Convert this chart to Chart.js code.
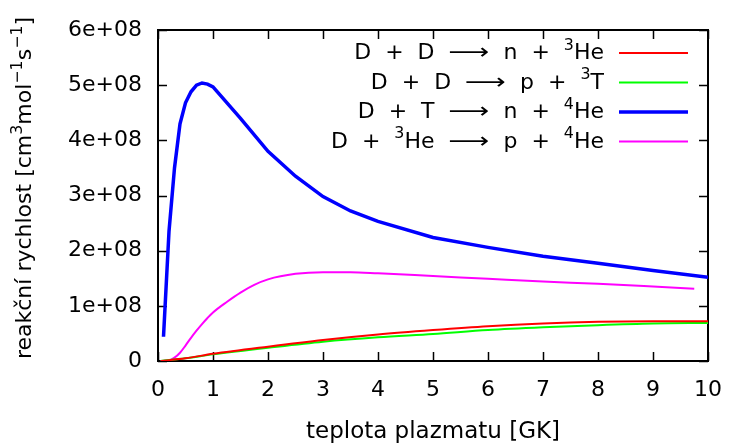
<!DOCTYPE html>
<html>
<head>
<meta charset="utf-8">
<script src="https://cdn.jsdelivr.net/npm/chart.js@4.4.1/dist/chart.umd.min.js"></script>
<style>
  html, body { margin: 0; padding: 0; background: #fff; }
  #wrap { width: 738px; height: 448px; }
</style>
</head>
<body>
<div id="wrap"><canvas id="rateChart" width="738" height="448"></canvas></div>
<script>
// temperature grid [GK] and rates [1e8 cm^3 mol^-1 s^-1]
const tempDT = [0.1, 0.2, 0.3, 0.4, 0.5, 0.6, 0.7, 0.8, 0.9, 1.0, 1.5, 2.0, 2.5, 3.0, 3.5, 4.0, 5.0, 6.0, 7.0, 8.0, 9.0, 10.0];
const rateDT = [0.44, 2.35, 3.5, 4.3, 4.68, 4.88, 5.0, 5.04, 5.02, 4.97, 4.4, 3.8, 3.35, 2.98, 2.72, 2.53, 2.24, 2.06, 1.9, 1.77, 1.64, 1.52];

const tempDHe3 = [0.05, 0.1, 0.2, 0.3, 0.4, 0.5, 0.6, 0.7, 0.8, 0.9, 1.0, 1.25, 1.5, 1.75, 2.0, 2.5, 3.0, 3.5, 4.0, 5.0, 6.0, 7.0, 8.0, 9.0, 9.75];
const rateDHe3 = [0, 0.002, 0.01, 0.06, 0.15, 0.28, 0.42, 0.55, 0.67, 0.78, 0.88, 1.07, 1.24, 1.38, 1.48, 1.58, 1.61, 1.61, 1.59, 1.54, 1.49, 1.44, 1.4, 1.35, 1.31];

const tempDD = [0.05, 0.5, 1.0, 2.0, 3.0, 4.0, 5.0, 6.0, 7.0, 8.0, 9.0, 10.0];
const rateDDn = [0, 0.05, 0.13, 0.26, 0.38, 0.48, 0.56, 0.63, 0.68, 0.71, 0.72, 0.72];
const rateDDp = [0, 0.05, 0.12, 0.24, 0.35, 0.43, 0.49, 0.56, 0.61, 0.65, 0.68, 0.69];

const xTicks = [0, 1, 2, 3, 4, 5, 6, 7, 8, 9, 10];
const yTicks = [0, 1e8, 2e8, 3e8, 4e8, 5e8, 6e8];

// legend labels as pieces: [text, kind]  kind: '' normal, 'sup' superscript, 'arr' long arrow
const legendRows = [
  [['D + D ', ''], ['\u27F6', 'arr'], [' n + ', ''], ['3', 'sup'], ['He', '']],
  [['D + D ', ''], ['\u27F6', 'arr'], [' p + ', ''], ['3', 'sup'], ['T', '']],
  [['D + T ', ''], ['\u27F6', 'arr'], [' n + ', ''], ['4', 'sup'], ['He', '']],
  [['D + ', ''], ['3', 'sup'], ['He ', ''], ['\u27F6', 'arr'], [' p + ', ''], ['4', 'sup'], ['He', '']],
];
const yTitle = [['reakční rychlost [cm', ''], ['3', 'sup'], ['mol', ''], ['\u22121', 'sup'], ['s', ''], ['\u22121', 'sup'], [']', '']];

const FONT = '"DejaVu Sans", sans-serif';
const FS = 22;

const toPoints = (xs, ys) => xs.map((x, i) => ({ x: x, y: ys[i] * 1e8 }));

const series = [
  { label: 'D + D -> n + 3He', data: toPoints(tempDD, rateDDn), borderColor: '#ff0000', borderWidth: 2, cubicInterpolationMode: 'monotone' },
  { label: 'D + D -> p + 3T', data: toPoints(tempDD, rateDDp), borderColor: '#00ff00', borderWidth: 2, cubicInterpolationMode: 'monotone' },
  { label: 'D + T -> n + 4He', data: toPoints(tempDT, rateDT), borderColor: '#0000ff', borderWidth: 3.5, tension: 0 },
  { label: 'D + 3He -> p + 4He', data: toPoints(tempDHe3, rateDHe3), borderColor: '#ff00ff', borderWidth: 2, cubicInterpolationMode: 'monotone' },
];

const ARROW_STRETCH = 1.3;

// text pieces with optional extra gap at spaces (gnuplot spaces are wide)
function pieceWidth(ctx, t, kind, size, gap) {
  ctx.font = (kind === 'sup' ? size * 0.72 : size) + 'px ' + FONT;
  let w = ctx.measureText(t).width;
  if (kind === 'arr') w *= ARROW_STRETCH;
  return w + (t.split(' ').length - 1) * gap;
}
function richWidth(ctx, parts, size, gap) {
  return parts.reduce((w, [t, kind]) => w + pieceWidth(ctx, t, kind, size, gap), 0);
}
function drawRich(ctx, parts, x, y, size, gap) {
  let cx = x;
  parts.forEach(([t, kind]) => {
    ctx.font = (kind === 'sup' ? size * 0.72 : size) + 'px ' + FONT;
    if (kind === 'arr') {
      ctx.save();
      ctx.translate(cx, y);
      ctx.scale(ARROW_STRETCH, 1);
      ctx.fillText(t, 0, 0);
      ctx.restore();
      cx += ctx.measureText(t).width * ARROW_STRETCH;
      return;
    }
    const yy = kind === 'sup' ? y - size * 0.42 : y;
    t.split(/( )/).forEach(chunk => {
      if (chunk === '') return;
      if (chunk === ' ') { cx += ctx.measureText(' ').width + gap; return; }
      ctx.fillText(chunk, cx, yy);
      cx += ctx.measureText(chunk).width;
    });
  });
}

// gnuplot style frame with inward ticks on all four sides
const framePlugin = {
  id: 'frame',
  beforeDatasetsDraw(chart) {
    const { ctx, chartArea: a, scales } = chart;
    ctx.save();
    ctx.strokeStyle = '#000';
    ctx.lineWidth = 1.5;
    const tl = 9;
    ctx.beginPath();
    xTicks.forEach(v => {
      const px = Math.round(scales.x.getPixelForValue(v)) + 0.5;
      ctx.moveTo(px, a.bottom); ctx.lineTo(px, a.bottom - tl);
      ctx.moveTo(px, a.top); ctx.lineTo(px, a.top + tl);
    });
    yTicks.forEach(v => {
      const py = Math.round(scales.y.getPixelForValue(v)) + 0.5;
      ctx.moveTo(a.left, py); ctx.lineTo(a.left + tl, py);
      ctx.moveTo(a.right, py); ctx.lineTo(a.right - tl, py);
    });
    ctx.stroke();
    ctx.lineWidth = 2;
    ctx.strokeRect(a.left, a.top, a.right - a.left, a.bottom - a.top);
    ctx.restore();
  },
  afterDraw(chart) {
    const { ctx } = chart;
    ctx.save();
    ctx.fillStyle = '#000';
    ctx.textBaseline = 'alphabetic';
    ctx.textAlign = 'left';
    // legend, right aligned text with line samples
    legendRows.forEach((parts, i) => {
      const y = 53 + i * 29.5;
      const w = richWidth(ctx, parts, FS, 7);
      drawRich(ctx, parts, 604 - w, y + 6, FS, 7);
      const ds = series[i];
      ctx.strokeStyle = ds.borderColor;
      ctx.lineWidth = ds.borderWidth;
      ctx.beginPath();
      ctx.moveTo(619, y); ctx.lineTo(688, y);
      ctx.stroke();
    });
    // y axis title
    ctx.translate(31, 188);
    ctx.rotate(-Math.PI / 2);
    const w = richWidth(ctx, yTitle, FS, 0);
    drawRich(ctx, yTitle, -w / 2, 0, FS, 0);
    ctx.restore();
  }
};

new Chart('rateChart', {
  type: 'line',
  data: {
    datasets: series.map(s => Object.assign({ pointRadius: 0, fill: false }, s))
  },
  options: {
    responsive: false,
    animation: false,
    layout: { padding: { left: 0, right: 22, top: 30, bottom: 0 } },
    plugins: { legend: { display: false }, tooltip: { enabled: false } },
    scales: {
      x: {
        type: 'linear', min: 0, max: 10,
        grid: { display: false, drawTicks: false },
        border: { display: false },
        afterFit: s => { s.height = 87; },
        afterBuildTicks: s => { s.ticks = xTicks.map(v => ({ value: v })); },
        ticks: { color: '#000', font: { family: FONT, size: FS }, padding: 16, maxRotation: 0 },
        title: { display: true, text: 'teplota plazmatu [GK]', color: '#000', font: { family: FONT, size: 23 }, padding: { top: 0, bottom: 2 } }
      },
      y: {
        min: 0, max: 6e8,
        grid: { display: false, drawTicks: false },
        border: { display: false },
        afterFit: s => { s.width = 158; },
        afterBuildTicks: s => { s.ticks = yTicks.map(v => ({ value: v })); },
        ticks: {
          color: '#000', font: { family: FONT, size: FS }, padding: 16,
          callback: v => v === 0 ? '0' : (v / 1e8) + 'e+08'
        }
      }
    }
  },
  plugins: [framePlugin]
});
</script>
</body>
</html>
